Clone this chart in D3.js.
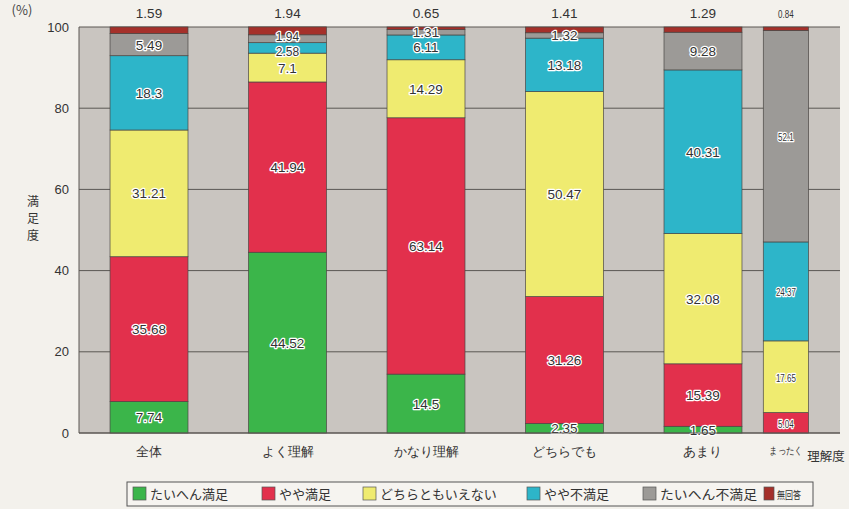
<!DOCTYPE html>
<html><head><meta charset="utf-8">
<script src="https://cdn.jsdelivr.net/npm/d3@7"></script>
<style>body{margin:0;background:#f3f1ec;}svg{display:block;font-family:"Noto Sans CJK JP","Noto Sans",sans-serif;}</style>
</head><body><svg id="c" width="849" height="509"></svg>
<script>
const categories = ["全体","よく理解","かなり理解","どちらでも","あまり","まったく"];
const seriesNames = ["たいへん満足","やや満足","どちらともいえない","やや不満足","たいへん不満足","無回答"];
const colors = ["#3bb54a","#e2304c","#efeb70","#2db5c9","#9c9a97","#a5302a"];
const s1 = [7.74, 44.52, 14.5, 2.35, 1.65, 0];
const s2 = [35.68, 41.94, 63.14, 31.26, 15.39, 5.04];
const s3 = [31.21, 7.1, 14.29, 50.47, 32.08, 17.65];
const s4 = [18.3, 2.58, 6.11, 13.18, 40.31, 24.37];
const s5 = [5.49, 1.94, 1.31, 1.32, 9.28, 52.1];
const s6 = [1.59, 1.94, 0.65, 1.41, 1.29, 0.84];
const yTicks = [0,20,40,60,80,100];
const series = [s1,s2,s3,s4,s5,s6];

(function(){
const svg = d3.select("#c");
const pTop=27, pBottom=433, pLeft=79;
const y = d3.scaleLinear().domain([0,100]).range([pBottom,pTop]);
const xb = d3.scaleBand().domain(categories).range([79, 911.5]).paddingInner(0.437).paddingOuter(0.224);
// photo fold compresses the right edge
const fold = d3.scaleLinear().domain([79,742,802,880,911.5]).range([79,742,763,808,840]);
const xr = fold(911.5);

svg.append("rect").attr("x",pLeft).attr("y",pTop).attr("width",xr-pLeft).attr("height",pBottom-pTop).attr("fill","#c9c5c0");
svg.selectAll("line.g").data(yTicks).join("line")
  .attr("x1",pLeft).attr("x2",xr).attr("y1",d=>y(d)).attr("y2",d=>y(d))
  .attr("stroke","#5a5753").attr("stroke-width",1);
svg.append("line").attr("x1",pLeft).attr("x2",pLeft).attr("y1",pTop).attr("y2",pBottom).attr("stroke","#5a5753");

const rows = categories.map((c,i)=>{const o={cat:c}; seriesNames.forEach((s,j)=>o[s]=series[j][i]); return o;});
const stack = d3.stack().keys(seriesNames)(rows);
const g = svg.append("g");
stack.forEach((layer,j)=>{
  g.selectAll(null).data(layer).join("rect")
    .attr("x",d=>fold(xb(d.data.cat)))
    .attr("width",d=>fold(xb(d.data.cat)+xb.bandwidth())-fold(xb(d.data.cat)))
    .attr("y",d=>y(d[1])).attr("height",d=>y(d[0])-y(d[1]))
    .attr("fill",colors[j]).attr("stroke","#4a4744").attr("stroke-width",0.7);
});

stack.forEach((layer,j)=>{
  layer.forEach((d,i)=>{
    const v = series[j][i];
    if(!v) return;
    const cx = (fold(xb(d.data.cat))+fold(xb(d.data.cat)+xb.bandwidth()))/2;
    const last = i===5;
    let ty, halo=true, fs = last?10:13.5;
    if(j===5){ ty = 18; halo=false; }
    else ty = (y(d[0])+y(d[1]))/2 + 5;
    if(j===4 && i===1){ ty -= 3; fs = 12; }
    if(j===3 && i===1){ ty += 3; fs = 12; }
    const t = svg.append("text").attr("x",cx).attr("y",ty).attr("text-anchor","middle")
      .attr("font-size", fs).attr("font-family","Liberation Sans, Arial, sans-serif")
      .attr("fill","#333").text(v);
    if(last) t.attr("transform",`translate(${cx},0) scale(0.8,1) translate(${-cx},0)`);
    if(halo) t.attr("stroke","#fff").attr("stroke-width",2.5).attr("paint-order","stroke").attr("stroke-linejoin","round");
  });
});

const ya = svg.append("g").attr("transform",`translate(${pLeft},0)`)
  .call(d3.axisLeft(y).tickValues(yTicks).tickSize(0).tickPadding(10));
ya.select(".domain").remove();
ya.selectAll("text").attr("font-size",13).attr("fill","#333").attr("font-family","Liberation Sans, Arial, sans-serif");

const xa = svg.append("g").attr("transform",`translate(0,${pBottom})`)
  .call(d3.axisBottom(xb).tickSize(0).tickPadding(14));
xa.select(".domain").attr("d",`M${pLeft},0H${xr}`).attr("stroke","#5a5753");
xa.selectAll(".tick").attr("transform",d=>`translate(${(fold(xb(d))+fold(xb(d)+xb.bandwidth()))/2},0)`);
xa.selectAll("text").attr("font-size",12.5).attr("fill","#333");
xa.selectAll(".tick").filter(d=>d==="まったく").select("text").attr("font-size",10).attr("transform","scale(0.85,1)");

svg.append("text").attr("x",826).attr("y",461).attr("text-anchor","middle").attr("font-size",12.5).attr("fill","#333").text("理解度");
svg.append("text").attr("x",22).attr("y",15).attr("text-anchor","middle").attr("font-size",13).attr("fill","#444").text("(%)");
svg.selectAll("text.yt").data(["満","足","度"]).join("text").attr("class","yt")
  .attr("x",33).attr("y",(d,i)=>206+i*17).attr("text-anchor","middle").attr("font-size",12).attr("fill","#333").text(d=>d);

const lg = svg.append("g");
lg.append("rect").attr("x",127).attr("y",482).attr("width",686).attr("height",24).attr("fill","#f6f4f0").attr("stroke","#555").attr("stroke-width",1);
const lx = [133,262,363,527,643,764];
seriesNames.forEach((s,i)=>{
  const small = i===5;
  lg.append("rect").attr("x",lx[i]).attr("y",487).attr("width",small?10:13).attr("height",13).attr("fill",colors[i]).attr("stroke","#555").attr("stroke-width",0.7);
  const t = lg.append("text").attr("x",lx[i]+(small?13:17)).attr("y",499).attr("font-size",small?10:13).attr("fill","#333").text(s);
  if(i===4) t.attr("textLength",97).attr("lengthAdjust","spacingAndGlyphs");
  if(small) t.attr("textLength",24).attr("lengthAdjust","spacingAndGlyphs");
});
})();
</script></body></html>
